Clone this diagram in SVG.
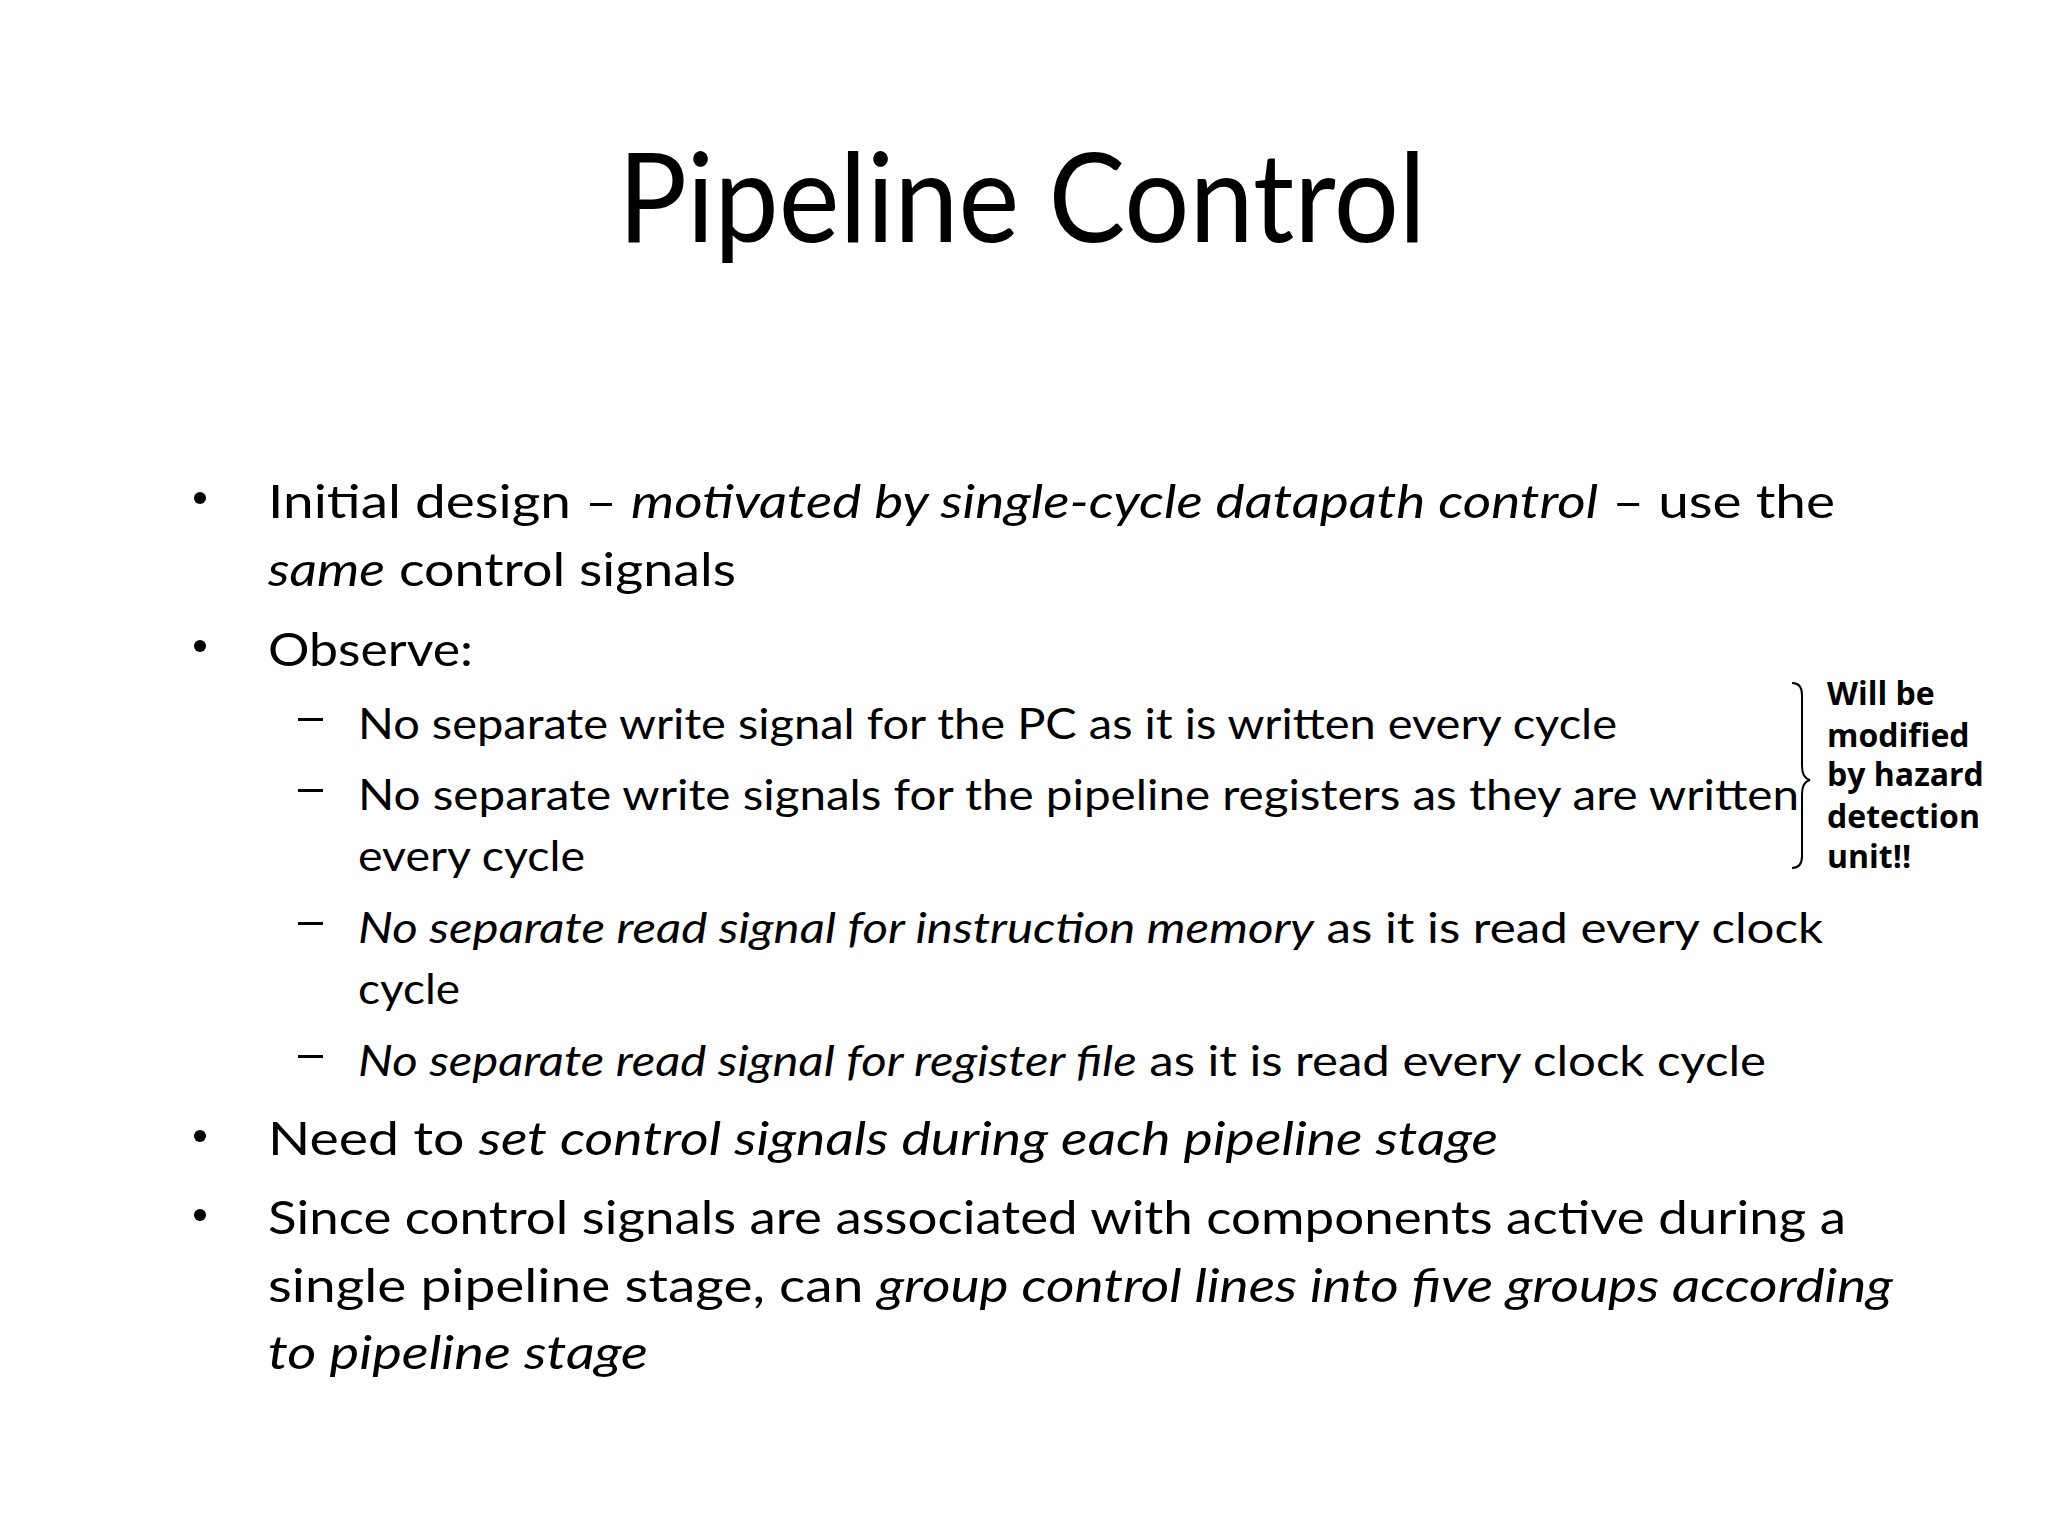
<svg xmlns="http://www.w3.org/2000/svg" width="2048" height="1536" viewBox="0 0 2048 1536">
<style>
.t{font-family:Lato,"Liberation Sans",sans-serif;fill:#000}
.b{font-size:47px}
.s{font-size:42px}
i,.i{font-style:italic}
.n{font-family:"Open Sans","Noto Sans",sans-serif;font-weight:bold;font-size:32px}
</style>
<rect width="2048" height="1536" fill="#fff"/>
<g id="title"><text class="t" x="1022" y="242" font-size="124" text-anchor="middle" textLength="808" lengthAdjust="spacingAndGlyphs">Pipeline Control</text></g>
<g id="bullets" fill="#000">
<circle cx="200" cy="498" r="6"/><circle cx="200" cy="646" r="6"/><circle cx="200" cy="1136" r="6"/><circle cx="200" cy="1215" r="6"/>
<rect x="298" y="718" width="25" height="3"/><rect x="298" y="789" width="25" height="3"/><rect x="298" y="922" width="25" height="3"/><rect x="298" y="1055" width="25" height="3"/>
</g>
<g id="text">
<text class="t b" x="268" y="518" textLength="1567" lengthAdjust="spacingAndGlyphs">Initial design – <tspan class="i">motivated by single-cycle datapath control</tspan> –  use the</text>
<text class="t b" x="268" y="586" textLength="468" lengthAdjust="spacingAndGlyphs"><tspan class="i">same</tspan> control signals</text>
<text class="t b" x="268" y="666" textLength="205" lengthAdjust="spacingAndGlyphs">Observe:</text>
<text class="t s" x="358" y="739" textLength="1259" lengthAdjust="spacingAndGlyphs">No separate write signal for the PC as it is written every cycle</text>
<text class="t s" x="358" y="810" textLength="1441" lengthAdjust="spacingAndGlyphs">No separate write signals for the pipeline registers as they are written</text>
<text class="t s" x="358" y="871" textLength="227" lengthAdjust="spacingAndGlyphs">every cycle</text>
<text class="t s" x="358" y="943" textLength="1465" lengthAdjust="spacingAndGlyphs"><tspan class="i">No separate read signal for instruction memory</tspan> as it is read every clock</text>
<text class="t s" x="358" y="1004" textLength="102" lengthAdjust="spacingAndGlyphs">cycle</text>
<text class="t s" x="358" y="1076" textLength="1408" lengthAdjust="spacingAndGlyphs"><tspan class="i">No separate read signal for register file</tspan> as it is read every clock cycle</text>
<text class="t b" x="268" y="1155" textLength="1230" lengthAdjust="spacingAndGlyphs">Need to <tspan class="i">set control signals during each pipeline stage</tspan></text>
<text class="t b" x="268" y="1234" textLength="1578" lengthAdjust="spacingAndGlyphs">Since control signals are associated with components active during a</text>
<text class="t b" x="268" y="1302" textLength="1625" lengthAdjust="spacingAndGlyphs">single pipeline stage, can <tspan class="i">group control lines into five groups according</tspan></text>
<text class="t b i" x="268" y="1369" textLength="380" lengthAdjust="spacingAndGlyphs">to pipeline stage</text>
</g>
<g id="note">
<path d="M1792 683 Q1802 683 1802 695 L1802 766 Q1802 778 1810 780 Q1802 782 1802 794 L1802 856 Q1802 868 1792 868" fill="none" stroke="#000" stroke-width="2"/>
<text class="n" x="1827" y="705">Will be</text>
<text class="n" x="1827" y="747">modified</text>
<text class="n" x="1827" y="786">by hazard</text>
<text class="n" x="1827" y="828">detection</text>
<text class="n" x="1827" y="868">unit!!</text>
</g>
</svg>
